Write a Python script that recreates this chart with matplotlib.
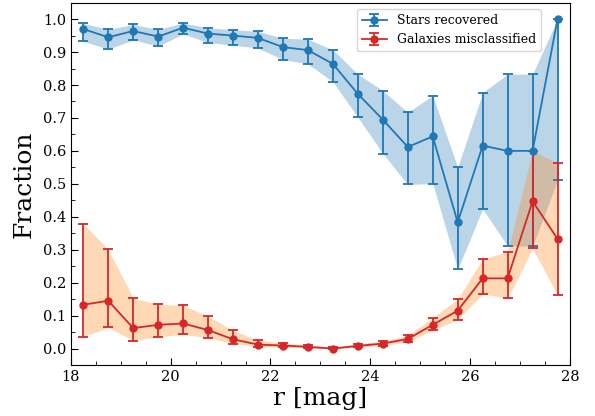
import matplotlib
matplotlib.use("Agg")
import matplotlib.pyplot as plt
import numpy as np

plt.rcParams['font.family'] = ['DejaVu Serif']

r_mag = [18.25, 18.75, 19.25, 19.75, 20.25, 20.75, 21.25, 21.75, 22.25, 22.75,
         23.25, 23.75, 24.25, 24.75, 25.25, 25.75, 26.25, 26.75, 27.25, 27.75]

stars = [0.970, 0.945, 0.964, 0.947, 0.974, 0.956, 0.950, 0.943, 0.915, 0.906,
         0.864, 0.773, 0.695, 0.612, 0.644, 0.383, 0.616, 0.600, 0.600, 1.000]
stars_lo = [0.933, 0.909, 0.937, 0.918, 0.955, 0.929, 0.921, 0.912, 0.877, 0.864,
            0.810, 0.702, 0.592, 0.498, 0.501, 0.240, 0.424, 0.311, 0.311, 0.511]
stars_hi = [0.987, 0.969, 0.984, 0.969, 0.988, 0.974, 0.968, 0.963, 0.942, 0.939,
            0.907, 0.833, 0.783, 0.717, 0.768, 0.550, 0.777, 0.833, 0.833, 1.000]

gals = [0.133, 0.145, 0.062, 0.072, 0.076, 0.056, 0.028, 0.012, 0.009, 0.005,
        0.000, 0.008, 0.015, 0.029, 0.072, 0.115, 0.213, 0.213, 0.447, 0.333]
gals_lo = [0.036, 0.064, 0.024, 0.036, 0.043, 0.033, 0.015, 0.006, 0.004, 0.002,
           0.000, 0.004, 0.008, 0.021, 0.055, 0.088, 0.166, 0.152, 0.304, 0.162]
gals_hi = [0.379, 0.301, 0.153, 0.134, 0.131, 0.098, 0.055, 0.025, 0.017, 0.010,
           0.004, 0.014, 0.023, 0.040, 0.094, 0.150, 0.272, 0.294, 0.600, 0.563]

x = np.array(r_mag)
s = np.array(stars); slo = np.array(stars_lo); shi = np.array(stars_hi)
g = np.array(gals); glo = np.array(gals_lo); ghi = np.array(gals_hi)

fig = plt.figure(figsize=(5.95, 4.16), dpi=100)
ax = fig.add_axes([0.119, 0.1226, 0.839, 0.871])

ax.fill_between(x, slo, shi, color='#1f77b4', alpha=0.3, lw=0)
ax.fill_between(x, glo, ghi, color='#ff7f0e', alpha=0.3, lw=0)
ax.errorbar(x, s, yerr=[s - slo, shi - s], fmt='-o', color='#1f77b4',
            ms=5, lw=1.3, capsize=3.5, elinewidth=1.3, capthick=1.3,
            label='Stars recovered')
ax.errorbar(x, g, yerr=[g - glo, ghi - g], fmt='-o', color='#d62728',
            ms=5, lw=1.3, capsize=3.5, elinewidth=1.3, capthick=1.3,
            label='Galaxies misclassified')

ax.set_xlim(18, 28)
ax.set_ylim(-0.05, 1.05)
ax.set_xticks([18, 20, 22, 24, 26, 28])
ax.set_yticks(np.round(np.arange(0, 1.01, 0.1), 1))
ax.yaxis.set_major_formatter(matplotlib.ticker.FormatStrFormatter('%.1f'))
ax.xaxis.set_minor_locator(matplotlib.ticker.MultipleLocator(0.5))
ax.yaxis.set_minor_locator(matplotlib.ticker.MultipleLocator(0.05))
ax.tick_params(which='both', direction='in', labelsize=10.5)
ax.tick_params(which='major', length=5)
ax.tick_params(which='minor', length=3)
ax.set_xlabel('r [mag]', fontsize=18, labelpad=2)
ax.set_ylabel('Fraction', fontsize=18, labelpad=5)
ax.legend(loc='upper right', bbox_to_anchor=(0.942, 0.982), borderaxespad=0,
          fontsize=9)

fig.savefig('out.png', dpi=100)
